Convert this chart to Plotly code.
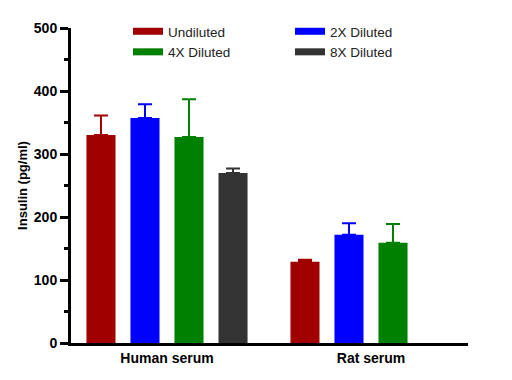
import plotly.graph_objects as go

categories = ["Human serum", "Rat serum"]
series_names = ["Undiluted", "2X Diluted", "4X Diluted", "8X Diluted"]
undiluted = [330, 129]
undiluted_err = [31, 3]
diluted_2x = [357, 172]
diluted_2x_err = [22, 18]
diluted_4x = [327, 159]
diluted_4x_err = [60, 30]
diluted_8x = [270, None]
diluted_8x_err = [7, 0]
colors = ["#A00000", "#0000FF", "#008000", "#333333"]
y_ticks = [0, 100, 200, 300, 400, 500]

FONT = "Liberation Sans, Arial, sans-serif"
values = [undiluted, diluted_2x, diluted_4x, diluted_8x]
errors = [undiluted_err, diluted_2x_err, diluted_4x_err, diluted_8x_err]
xpos = list(range(len(categories)))

# page body has an 8px margin; figure placed at (8, 8)
OFF = 8
W, H = 496, 364
plot_left, plot_right = 71 - OFF, 468 - OFF
plot_top, plot_bottom = 28 - OFF, 343 - OFF
ML, MT = 2, 10
MR = W - plot_right
MB = H - plot_bottom
pw = W - ML - MR
ph = H - MT - MB
x_dom0 = (plot_left - ML) / pw
y_dom1 = (plot_bottom - plot_top) / ph

fig = go.Figure()
for name, vals, errs, col in zip(series_names, values, errors, colors):
    fig.add_trace(go.Bar(
        x=xpos, y=vals, name=name, marker=dict(color=col, line=dict(width=0)),
        showlegend=False,
        error_y=dict(type="data", symmetric=False, array=errs,
                     arrayminus=[0] * len(errs), color=col, thickness=2, width=7),
    ))
for name, col in zip(series_names, colors):
    fig.add_trace(go.Scatter(x=[None], y=[None], mode="lines", name=name,
                             line=dict(color=col, width=7), showlegend=True))

fig.update_layout(
    width=W, height=H,
    margin=dict(l=ML, r=MR, t=MT, b=MB),
    plot_bgcolor="white", paper_bgcolor="white",
    barmode="group", bargap=0.137, bargroupgap=0.34,
    font=dict(family=FONT, color="black", size=13),
    legend=dict(orientation="h", x=(128 - OFF - ML) / pw, xanchor="left",
                y=(plot_bottom - (16 - OFF)) / ph, yanchor="top",
                entrywidth=117, font=dict(size=13.5, color="#222222"),
                bgcolor="rgba(0,0,0,0)", tracegroupgap=0),
    xaxis=dict(domain=[x_dom0, 1], range=[-0.4706, 1.4755], tickmode="array",
               tickvals=xpos, ticktext=categories, showline=True, linecolor="black",
               linewidth=3, ticks="", automargin=False,
               tickfont=dict(size=14, family=FONT, weight="bold"),
               showgrid=False, zeroline=False, fixedrange=True),
    yaxis=dict(domain=[0, y_dom1], range=[0, 500], tickvals=y_ticks, showline=True,
               linecolor="black", linewidth=3, ticks="outside", ticklen=8,
               tickwidth=2.5, tickcolor="black",
               minor=dict(dtick=50, ticks="outside", ticklen=4, tickwidth=2.5, tickcolor="black"),
               tickfont=dict(size=14, family=FONT, weight="bold"),
               title=dict(text="Insulin (pg/ml)", standoff=4,
                          font=dict(size=13, family=FONT, weight="bold")),
               showgrid=False, zeroline=False),
)

fig.write_html("out.html")
